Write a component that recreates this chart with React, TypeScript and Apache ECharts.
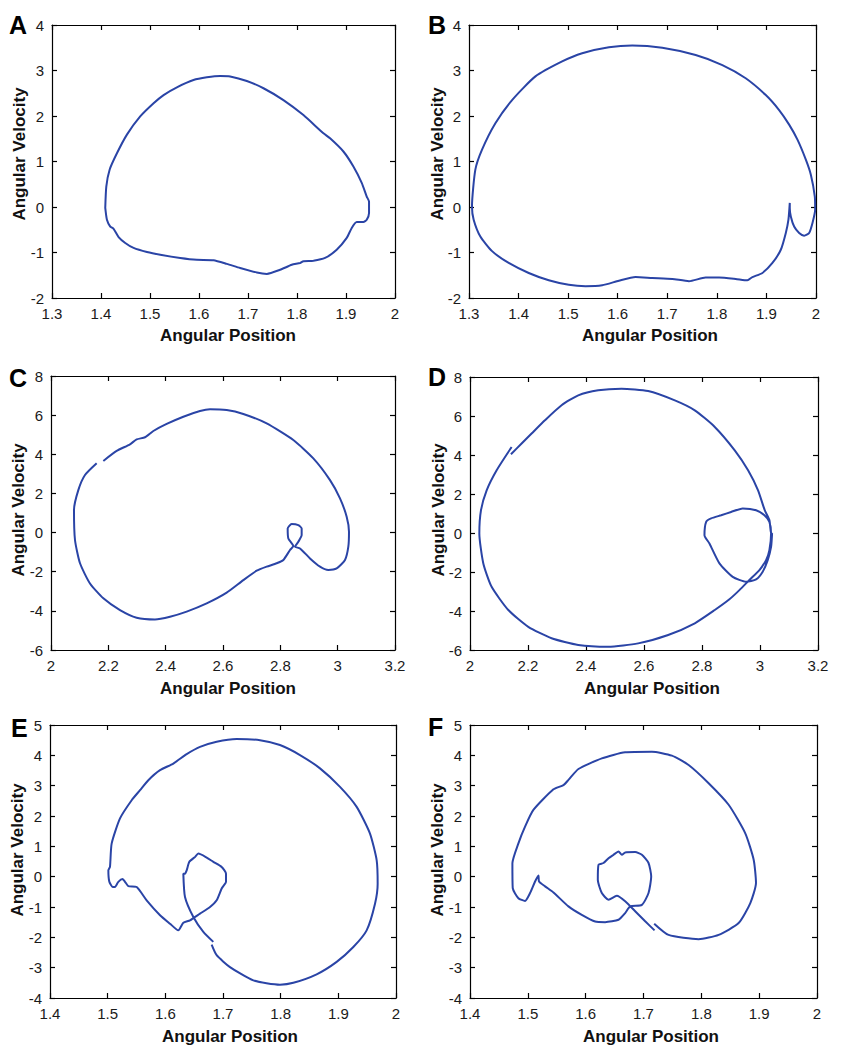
import React, { useEffect, useRef } from "react";
import * as echarts from "echarts";

// ---- Data (angular position, angular velocity) ----
const panelA: number[][] = [
  [1.4087, -0.02], [1.4108, 0.45], [1.4176, 0.82], [1.4325, 1.18], [1.4529, 1.59], [1.48, 1.99],
  [1.5073, 2.28], [1.5277, 2.46], [1.5549, 2.63], [1.5888, 2.79], [1.616, 2.85], [1.6432, 2.88],
  [1.6636, 2.87], [1.6976, 2.77], [1.7316, 2.61], [1.7723, 2.35], [1.8131, 2.02], [1.8539, 1.62],
  [1.8675, 1.51], [1.8947, 1.22], [1.9151, 0.89], [1.9321, 0.53], [1.9423, 0.23], [1.947, 0.12],
  [1.947, -0.13], [1.9423, -0.28], [1.9355, -0.33], [1.9219, -0.33], [1.9117, -0.46], [1.9015, -0.68],
  [1.881, -0.94], [1.8573, -1.12], [1.8335, -1.18], [1.8131, -1.19], [1.8063, -1.23], [1.7893, -1.27],
  [1.7655, -1.38], [1.7384, -1.47], [1.718, -1.44], [1.684, -1.34], [1.6568, -1.25], [1.6296, -1.17],
  [1.5956, -1.16], [1.5617, -1.12], [1.5209, -1.05], [1.4937, -0.99], [1.4665, -0.9], [1.4495, -0.79],
  [1.4359, -0.66], [1.4257, -0.48], [1.4189, -0.43], [1.4121, -0.28], [1.4087, -0.02],
];

const panelB: number[][] = [
  [1.9471, 0.09], [1.9444, -0.28], [1.9391, -0.57], [1.929, -0.94], [1.9121, -1.23], [1.8919, -1.45],
  [1.8717, -1.54], [1.8616, -1.61], [1.838, -1.58], [1.8044, -1.55], [1.7774, -1.55], [1.7438, -1.63],
  [1.7101, -1.58], [1.6697, -1.56], [1.636, -1.54], [1.6024, -1.62], [1.5687, -1.72], [1.535, -1.74],
  [1.5013, -1.71], [1.4609, -1.61], [1.4205, -1.45], [1.3801, -1.23], [1.3465, -0.97], [1.3229, -0.65],
  [1.3094, -0.28], [1.306, 0.01], [1.3128, 0.82], [1.3263, 1.26], [1.3532, 1.84], [1.3869, 2.35],
  [1.434, 2.87], [1.4879, 3.2], [1.5283, 3.38], [1.5822, 3.51], [1.6293, 3.55], [1.6899, 3.5],
  [1.7572, 3.34], [1.8111, 3.12], [1.8582, 2.83], [1.8987, 2.46], [1.9256, 2.13], [1.9458, 1.81],
  [1.9626, 1.48], [1.9795, 1.04], [1.9896, 0.71], [1.9976, 0.23], [1.9983, -0.06], [1.9929, -0.35],
  [1.9862, -0.57], [1.9761, -0.63], [1.966, -0.57], [1.9559, -0.43], [1.9492, -0.21], [1.9471, -0.02],
  [1.9471, 0.09],
];

const panelC: number[][] = [
  [2.1826, 3.66], [2.229, 4.17], [2.2756, 4.51], [2.2988, 4.76], [2.3279, 4.87], [2.357, 5.19],
  [2.4035, 5.55], [2.4616, 5.92], [2.5198, 6.21], [2.5547, 6.3], [2.6128, 6.26], [2.6709, 6.06],
  [2.7523, 5.58], [2.8453, 4.73], [2.9151, 3.79], [2.9733, 2.68], [3.0081, 1.75], [3.0314, 0.81],
  [3.0395, 0.04], [3.0372, -0.72], [3.0256, -1.4], [2.9965, -1.83], [2.9674, -1.91], [2.9384, -1.74],
  [2.9035, -1.32], [2.8686, -0.81], [2.8512, -0.72], [2.8628, -0.47], [2.8744, -0.13], [2.8744, 0.21],
  [2.8628, 0.38], [2.8395, 0.44], [2.8256, 0.21], [2.8279, -0.3], [2.8453, -0.69], [2.8337, -0.89],
  [2.8105, -1.4], [2.7872, -1.57], [2.7523, -1.74], [2.7174, -1.95], [2.6709, -2.43], [2.6128, -3.07],
  [2.543, -3.62], [2.4733, -4.04], [2.4151, -4.3], [2.3628, -4.44], [2.2988, -4.35], [2.2407, -3.96],
  [2.1826, -3.36], [2.136, -2.6], [2.1012, -1.57], [2.0837, -0.38], [2.0802, 1.15], [2.0953, 2.17],
  [2.1186, 2.94], [2.1593, 3.54],
];

const panelD: number[][] = [
  [2.1412, 4.04], [2.178, 4.59], [2.2124, 5.1], [2.2584, 5.78], [2.3158, 6.55], [2.3732, 7.06],
  [2.4421, 7.32], [2.5225, 7.4], [2.6144, 7.28], [2.7063, 6.8], [2.7751, 6.29], [2.844, 5.44],
  [2.9129, 4.24], [2.9589, 3.22], [2.9933, 2.19], [3.0163, 1.17], [3.0324, 0.66], [3.0382, -0.02],
  [3.0417, -0.02], [3.0382, -0.71], [3.0266, -1.39], [3.0093, -1.99], [2.9866, -2.38], [2.9521, -2.5],
  [2.906, -2.25], [2.8601, -1.56], [2.8257, -0.54], [2.8085, -0.11], [2.8143, 0.57], [2.8315, 0.75],
  [2.866, 0.91], [2.9004, 1.08], [2.9404, 1.26], [2.9866, 1.17], [3.0152, 0.91], [3.0324, 0.57],
  [3.0382, -0.02], [3.0324, -0.88], [3.021, -1.39], [2.998, -1.9], [2.9635, -2.41], [2.929, -2.93],
  [2.8946, -3.4], [2.844, -3.95], [2.7751, -4.63], [2.6833, -5.23], [2.5799, -5.66], [2.4766, -5.83],
  [2.3732, -5.74], [2.2813, -5.4], [2.201, -4.81], [2.1321, -3.95], [2.0746, -2.76], [2.0459, -1.56],
  [2.0322, -0.02], [2.0379, 1.17], [2.0574, 2.19], [2.0919, 3.22], [2.1435, 4.41],
];

const panelE: number[][] = [
  [1.6803, -2.24], [1.689, -2.59], [1.7121, -2.98], [1.7526, -3.42], [1.7988, -3.56], [1.822, -3.5],
  [1.8624, -3.22], [1.8971, -2.81], [1.926, -2.32], [1.9491, -1.77], [1.9636, -0.89], [1.9682, -0.23],
  [1.9665, 0.54], [1.9549, 1.42], [1.9318, 2.3], [1.9029, 2.96], [1.8682, 3.57], [1.8335, 4.01],
  [1.7988, 4.34], [1.7642, 4.5], [1.7237, 4.54], [1.689, 4.45], [1.6601, 4.28], [1.637, 4.04],
  [1.6139, 3.73], [1.5908, 3.51], [1.5705, 3.18], [1.5561, 2.85], [1.5416, 2.52], [1.5214, 1.92],
  [1.5069, 1.09], [1.504, 0.32], [1.5012, 0.21], [1.5029, -0.17], [1.5087, -0.34], [1.5127, -0.34],
  [1.5185, -0.17], [1.526, -0.08], [1.5301, -0.17], [1.5358, -0.31], [1.5503, -0.34], [1.5676, -0.78],
  [1.5908, -1.27], [1.6081, -1.55], [1.6225, -1.77], [1.6312, -1.52], [1.6428, -1.44], [1.6601, -1.22],
  [1.6775, -1.0], [1.689, -0.78], [1.6977, -0.39], [1.7052, -0.17], [1.7052, 0.1], [1.6977, 0.32],
  [1.6832, 0.49], [1.6717, 0.63], [1.6572, 0.76], [1.6514, 0.65], [1.6416, 0.49], [1.637, 0.21],
  [1.6341, 0.1], [1.6312, 0.1], [1.6341, -0.67], [1.6486, -1.33], [1.6659, -1.82], [1.6832, -2.15],
];

const panelF: number[][] = [
  [1.7185, -1.55], [1.7433, -1.92], [1.7953, -2.06], [1.8299, -1.92], [1.8645, -1.53], [1.8847, -0.87],
  [1.8945, -0.21], [1.8905, 0.56], [1.876, 1.43], [1.8472, 2.37], [1.8126, 3.08], [1.778, 3.68],
  [1.7491, 3.99], [1.7145, 4.12], [1.6683, 4.1], [1.6279, 3.9], [1.5875, 3.55], [1.5702, 3.19],
  [1.5616, 3.02], [1.5443, 2.88], [1.5096, 2.2], [1.4952, 1.65], [1.4837, 1.1], [1.4733, 0.44],
  [1.4739, -0.38], [1.4837, -0.71], [1.4952, -0.8], [1.5039, -0.54], [1.5125, -0.16], [1.5183, 0.04],
  [1.5194, -0.16], [1.5298, -0.32], [1.5443, -0.52], [1.5702, -0.98], [1.5933, -1.26], [1.6164, -1.48],
  [1.6337, -1.5], [1.6568, -1.42], [1.6683, -1.2], [1.677, -0.98], [1.6972, -0.93], [1.7087, -0.54],
  [1.7133, 0.01], [1.7087, 0.45], [1.6972, 0.72], [1.6856, 0.81], [1.6683, 0.8], [1.6626, 0.72],
  [1.6568, 0.83], [1.6481, 0.72], [1.6395, 0.61], [1.6308, 0.45], [1.6222, 0.39], [1.621, -0.1],
  [1.6279, -0.54], [1.6395, -0.76], [1.6539, -0.63], [1.6683, -0.81], [1.6856, -1.14], [1.7029, -1.47],
  [1.7191, -1.77],
];

const panelLetters = ["A", "B", "C", "D", "E", "F"];
const xRanges = [[1.3, 2, 0.1], [1.3, 2, 0.1], [2, 3.2, 0.2], [2, 3.2, 0.2], [1.4, 2, 0.1], [1.4, 2, 0.1]];
const yRanges = [[-2, 4, 1], [-2, 4, 1], [-6, 8, 2], [-6, 8, 2], [-4, 5, 1], [-4, 5, 1]];
const xTitle = "Angular Position";
const yTitle = "Angular Velocity";

// layout (pixels)
const grids = [
  { left: 52, top: 25, width: 343, height: 273 },
  { left: 469, top: 25, width: 347, height: 273 },
  { left: 51, top: 376, width: 344, height: 274 },
  { left: 470, top: 377, width: 348, height: 273 },
  { left: 50, top: 725, width: 346, height: 273 },
  { left: 470, top: 725, width: 347, height: 273 },
];
const letterPos = [[9, 12], [428, 12], [9, 365], [428, 364], [11, 715], [428, 714]];
const xTitlePos = [[228, 335], [650, 335], [228, 688], [652, 688], [230, 1036], [651, 1036]];
const yTitlePos = [[19, 154], [437, 154], [18, 510], [438, 510], [17, 850], [437, 850]];

const FONT = "'Liberation Sans', Arial, Helvetica, sans-serif";
const LINE_COLOR = "#2a44a6";

export default function App() {
  const ref = useRef<HTMLDivElement>(null);
  useEffect(() => {
    if (!ref.current) return;
    const chart = echarts.init(ref.current, null, { renderer: "svg" });
    const datasets = [panelA, panelB, panelC, panelD, panelE, panelF];
    const xAxes: any[] = [];
    const yAxes: any[] = [];
    const series: any[] = [];
    const graphics: any[] = [];
    datasets.forEach((d, i) => {
      const [xmin, xmax, xint] = xRanges[i];
      const [ymin, ymax, yint] = yRanges[i];
      const common = {
        gridIndex: i,
        type: "value",
        splitLine: { show: false },
        axisLine: { show: true, onZero: false, lineStyle: { color: "#000", width: 1.2 } },
        axisTick: { show: true, inside: true, length: 5, lineStyle: { color: "#000", width: 1.2 } },
      };
      xAxes.push({
        ...common, position: "bottom", min: xmin, max: xmax, interval: xint,
        axisLabel: { show: true, margin: 8, color: "#1a1a1a", fontSize: 15, fontFamily: FONT },
      });
      xAxes.push({
        ...common, position: "top", min: xmin, max: xmax, interval: xint,
        axisLabel: { show: false },
      });
      yAxes.push({
        ...common, position: "left", min: ymin, max: ymax, interval: yint,
        axisLabel: { show: true, margin: 8, color: "#1a1a1a", fontSize: 15, fontFamily: FONT },
      });
      yAxes.push({
        ...common, position: "right", min: ymin, max: ymax, interval: yint,
        axisLabel: { show: false },
      });
      series.push({
        type: "line",
        xAxisIndex: 2 * i,
        yAxisIndex: 2 * i,
        data: d,
        showSymbol: false,
        symbol: "none",
        smooth: 0.2,
        lineStyle: { color: LINE_COLOR, width: 2 },
        clip: true,
      });
      graphics.push({
        type: "text", x: letterPos[i][0], y: letterPos[i][1],
        style: { text: panelLetters[i], font: `bold 25px ${FONT}`, fill: "#000", align: "left", verticalAlign: "top" },
      });
      graphics.push({
        type: "text", x: xTitlePos[i][0], y: xTitlePos[i][1],
        style: { text: xTitle, font: `bold 17px ${FONT}`, fill: "#111", align: "center", verticalAlign: "middle" },
      });
      graphics.push({
        type: "text", x: yTitlePos[i][0], y: yTitlePos[i][1], rotation: Math.PI / 2,
        style: { text: yTitle, font: `bold 17px ${FONT}`, fill: "#111", align: "center", verticalAlign: "middle" },
      });
    });
    chart.setOption({
      animation: false,
      backgroundColor: "#ffffff",
      grid: grids.map((g) => ({ ...g, containLabel: false, show: false })),
      xAxis: xAxes,
      yAxis: yAxes,
      series,
      graphic: graphics,
    });
    return () => chart.dispose();
  }, []);
  return (
    <div
      ref={ref}
      style={{ position: "absolute", left: 0, top: 0, width: 845, height: 1050, background: "#fff" }}
    />
  );
}
